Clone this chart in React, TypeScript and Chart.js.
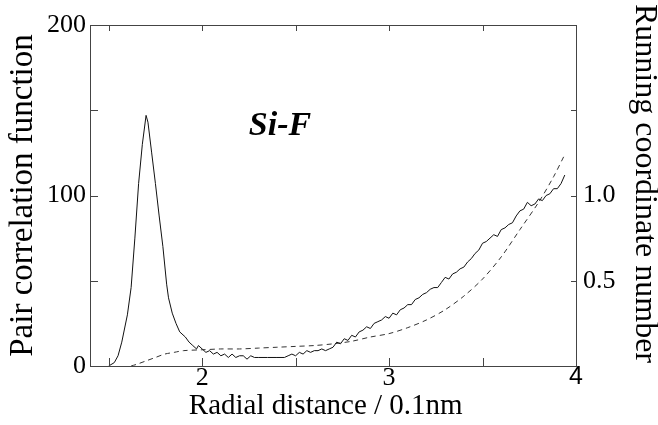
import React, { useEffect, useRef } from "react";
import { Chart, registerables } from "chart.js";

Chart.register(...registerables);

// Axis ticks
const xTicks = [1.5, 2, 2.5, 3, 3.5, 4];
const xTickLabels = ["", "2", "", "3", "", "4"];
const yTicks = [0, 50, 100, 150, 200];
const yTickLabels = ["0", "", "100", "", "200"];
const y2Ticks = [0.5, 1.0, 1.5, 2.0];
const y2TickLabels = ["0.5", "1.0", "", ""];

const xTitle = "Radial distance / 0.1nm\u00a0\u00a0";
const yTitle = "Pair correlation function";
const y2Title = "Running coordinate number\u00a0\u00a0\u00a0";
const annotationText = "Si-F";

// Pair correlation function g(r) (solid)
const rG = [
  1.5, 1.53, 1.55, 1.57, 1.6, 1.62, 1.64, 1.66, 1.68, 1.7, 1.71, 1.73, 1.75, 1.77, 1.79, 1.81, 1.82,
  1.84, 1.86, 1.88, 1.91, 1.93, 1.95, 1.97, 1.98, 2.0, 2.02, 2.04, 2.06, 2.08, 2.1, 2.12, 2.14, 2.16,
  2.18, 2.2, 2.22, 2.24, 2.26, 2.28, 2.3, 2.35, 2.4, 2.44, 2.46, 2.48, 2.5, 2.52, 2.54, 2.56, 2.58,
  2.6, 2.62, 2.64, 2.66, 2.68, 2.7, 2.72, 2.74, 2.76, 2.78, 2.8, 2.82, 2.84, 2.86, 2.88, 2.9, 2.92,
  2.94, 2.96, 2.98, 3.0, 3.02, 3.04, 3.06, 3.08, 3.1, 3.12, 3.14, 3.16, 3.18, 3.2, 3.22, 3.24, 3.26,
  3.28, 3.3, 3.32, 3.34, 3.36, 3.38, 3.4, 3.42, 3.44, 3.46, 3.48, 3.5, 3.52, 3.54, 3.56, 3.58, 3.6,
  3.62, 3.64, 3.66, 3.68, 3.7, 3.72, 3.74, 3.76, 3.78, 3.8, 3.82, 3.84, 3.86, 3.88, 3.9, 3.92, 3.94,
];
const gValues = [
  0, 2, 6, 14, 30, 46, 75, 107, 130, 147, 143, 125, 107, 88, 70, 48, 40,
  31, 25, 20, 17, 14, 12, 10, 12, 10, 8, 9, 7, 8, 6, 7, 5, 7,
  5, 6, 6, 4, 6, 5, 5, 5, 5, 5, 6, 7, 6, 8, 7, 9, 8,
  9, 9, 10, 9, 10, 11, 14, 13, 16, 15, 18, 17, 20, 21, 23, 22, 25,
  26, 27, 29, 28, 31, 30, 33, 34, 36, 36, 39, 40, 42, 43, 45, 46, 46,
  49, 52, 51, 54, 55, 57, 58, 61, 63, 66, 68, 72, 73, 75, 77, 76, 80,
  81, 83, 84, 88, 91, 92, 96, 94, 95, 98, 97, 100, 101, 104, 104, 107, 112,
];

// Running coordinate number N(r) (dashed, right axis)
const rN = [
  1.62, 1.65, 1.7, 1.75, 1.8, 1.85, 1.9, 2.0, 2.1, 2.2, 2.3, 2.4, 2.5, 2.6, 2.7, 2.8, 2.9, 3.0, 3.1,
  3.2, 3.3, 3.4, 3.5, 3.6, 3.7, 3.8, 3.88, 3.94,
];
const nValues = [
  0, 0.01, 0.03, 0.05, 0.07, 0.08, 0.09, 0.095, 0.1, 0.1, 0.105, 0.11, 0.115, 0.12, 0.13, 0.145, 0.17,
  0.19, 0.225, 0.27, 0.33, 0.41, 0.51, 0.64, 0.8, 0.96, 1.11, 1.24,
];

const SERIF = "'Liberation Serif', 'Times New Roman', serif";
const SANS = "'Liberation Sans', Arial, sans-serif";

const framePlugin = {
  id: "frame",
  afterDatasetsDraw(chart: any) {
    const { ctx, chartArea: a, scales } = chart;
    ctx.save();
    ctx.strokeStyle = "#444";
    ctx.lineWidth = 1;
    ctx.strokeRect(a.left + 0.5, a.top + 0.5, a.right - a.left, a.bottom - a.top);
    ctx.beginPath();
    xTicks.forEach((v) => {
      const px = Math.round(scales.x.getPixelForValue(v)) + 0.5;
      ctx.moveTo(px, a.bottom);
      ctx.lineTo(px, a.bottom - 8);
      ctx.moveTo(px, a.top);
      ctx.lineTo(px, a.top + 6);
    });
    yTicks.forEach((v) => {
      const py = Math.round(scales.y.getPixelForValue(v)) + 0.5;
      ctx.moveTo(a.left, py);
      ctx.lineTo(a.left + 8, py);
    });
    y2Ticks.forEach((v) => {
      const py = Math.round(scales.y2.getPixelForValue(v)) + 0.5;
      ctx.moveTo(a.right, py);
      ctx.lineTo(a.right - 5, py);
    });
    ctx.stroke();
    ctx.font = `italic bold 34px ${SERIF}`;
    ctx.textAlign = "center";
    ctx.textBaseline = "alphabetic";
    ctx.fillStyle = "#000";
    ctx.fillText(annotationText, 280, 135);
    ctx.restore();
  },
};

export default function App() {
  const ref = useRef<HTMLCanvasElement | null>(null);

  useEffect(() => {
    document.body.style.margin = "0";
    const canvas = ref.current;
    if (!canvas) return;
    const chart = new Chart(canvas, {
      type: "line",
      data: {
        datasets: [
          {
            label: "g(r)",
            data: rG.map((r, i) => ({ x: r, y: gValues[i] })),
            yAxisID: "y",
            borderColor: "#111",
            borderWidth: 1,
            pointRadius: 0,
            tension: 0,
            fill: false,
          },
          {
            label: "N(r)",
            data: rN.map((r, i) => ({ x: r, y: nValues[i] })),
            yAxisID: "y2",
            borderColor: "#333",
            borderWidth: 1,
            borderDash: [5, 4],
            pointRadius: 0,
            tension: 0.3,
            fill: false,
          },
        ],
      },
      options: {
        animation: false,
        responsive: false,
        layout: { padding: { top: 25, left: 0, right: 0, bottom: 0 } },
        plugins: { legend: { display: false }, tooltip: { enabled: false } },
        scales: {
          x: {
            type: "linear",
            position: "bottom",
            min: 1.4,
            max: 4,
            grid: { display: false, drawTicks: false },
            border: { display: false },
            afterBuildTicks: (s: any) => {
              s.ticks = xTicks.map((v) => ({ value: v }));
            },
            afterFit: (s: any) => {
              s.height = 59;
            },
            ticks: {
              autoSkip: false,
              maxRotation: 0,
              padding: 0,
              color: "#000",
              font: (c: any) =>
                c.tick && c.tick.value === 4
                  ? { family: SANS, size: 25, lineHeight: 0.9 }
                  : { family: SERIF, size: 26, lineHeight: 0.9 },
              callback: (v: any) => {
                const i = xTicks.indexOf(Number(v));
                return i >= 0 ? xTickLabels[i] : "";
              },
            },
            title: {
              display: true,
              text: xTitle,
              color: "#000",
              font: { family: SERIF, size: 29, lineHeight: 1.25 },
              padding: { top: 0, bottom: 0 },
            },
          },
          y: {
            type: "linear",
            position: "left",
            min: 0,
            max: 200,
            grid: { display: false, drawTicks: false },
            border: { display: false },
            afterBuildTicks: (s: any) => {
              s.ticks = yTicks.map((v) => ({ value: v }));
            },
            afterFit: (s: any) => {
              s.width = 90;
            },
            ticks: {
              autoSkip: false,
              padding: 4,
              color: "#000",
              font: { family: SERIF, size: 26 },
              callback: (v: any) => {
                const i = yTicks.indexOf(Number(v));
                return i >= 0 ? yTickLabels[i] : "";
              },
            },
            title: {
              display: true,
              text: yTitle,
              color: "#000",
              font: { family: SERIF, size: 33, lineHeight: 1 },
              padding: { top: 7, bottom: 0 },
            },
          },
          y2: {
            type: "linear",
            position: "right",
            min: 0,
            max: 2,
            grid: { display: false, drawTicks: false },
            border: { display: false },
            afterBuildTicks: (s: any) => {
              s.ticks = y2Ticks.map((v) => ({ value: v }));
            },
            afterFit: (s: any) => {
              s.width = 82;
            },
            ticks: {
              autoSkip: false,
              padding: 7,
              color: "#000",
              font: { family: SERIF, size: 26 },
              callback: (v: any) => {
                const i = y2Ticks.indexOf(Number(v));
                return i >= 0 ? y2TickLabels[i] : "";
              },
            },
            title: {
              display: true,
              text: y2Title,
              color: "#000",
              font: { family: SERIF, size: 32, lineHeight: 0.84 },
              padding: { top: 0, bottom: 0 },
            },
          },
        },
      },
      plugins: [framePlugin],
    } as any);
    return () => chart.destroy();
  }, []);

  return (
    <div style={{ position: "absolute", left: 0, top: 0, width: 658, height: 425, background: "#fff" }}>
      <canvas ref={ref} width={658} height={425} style={{ display: "block" }} />
    </div>
  );
}
